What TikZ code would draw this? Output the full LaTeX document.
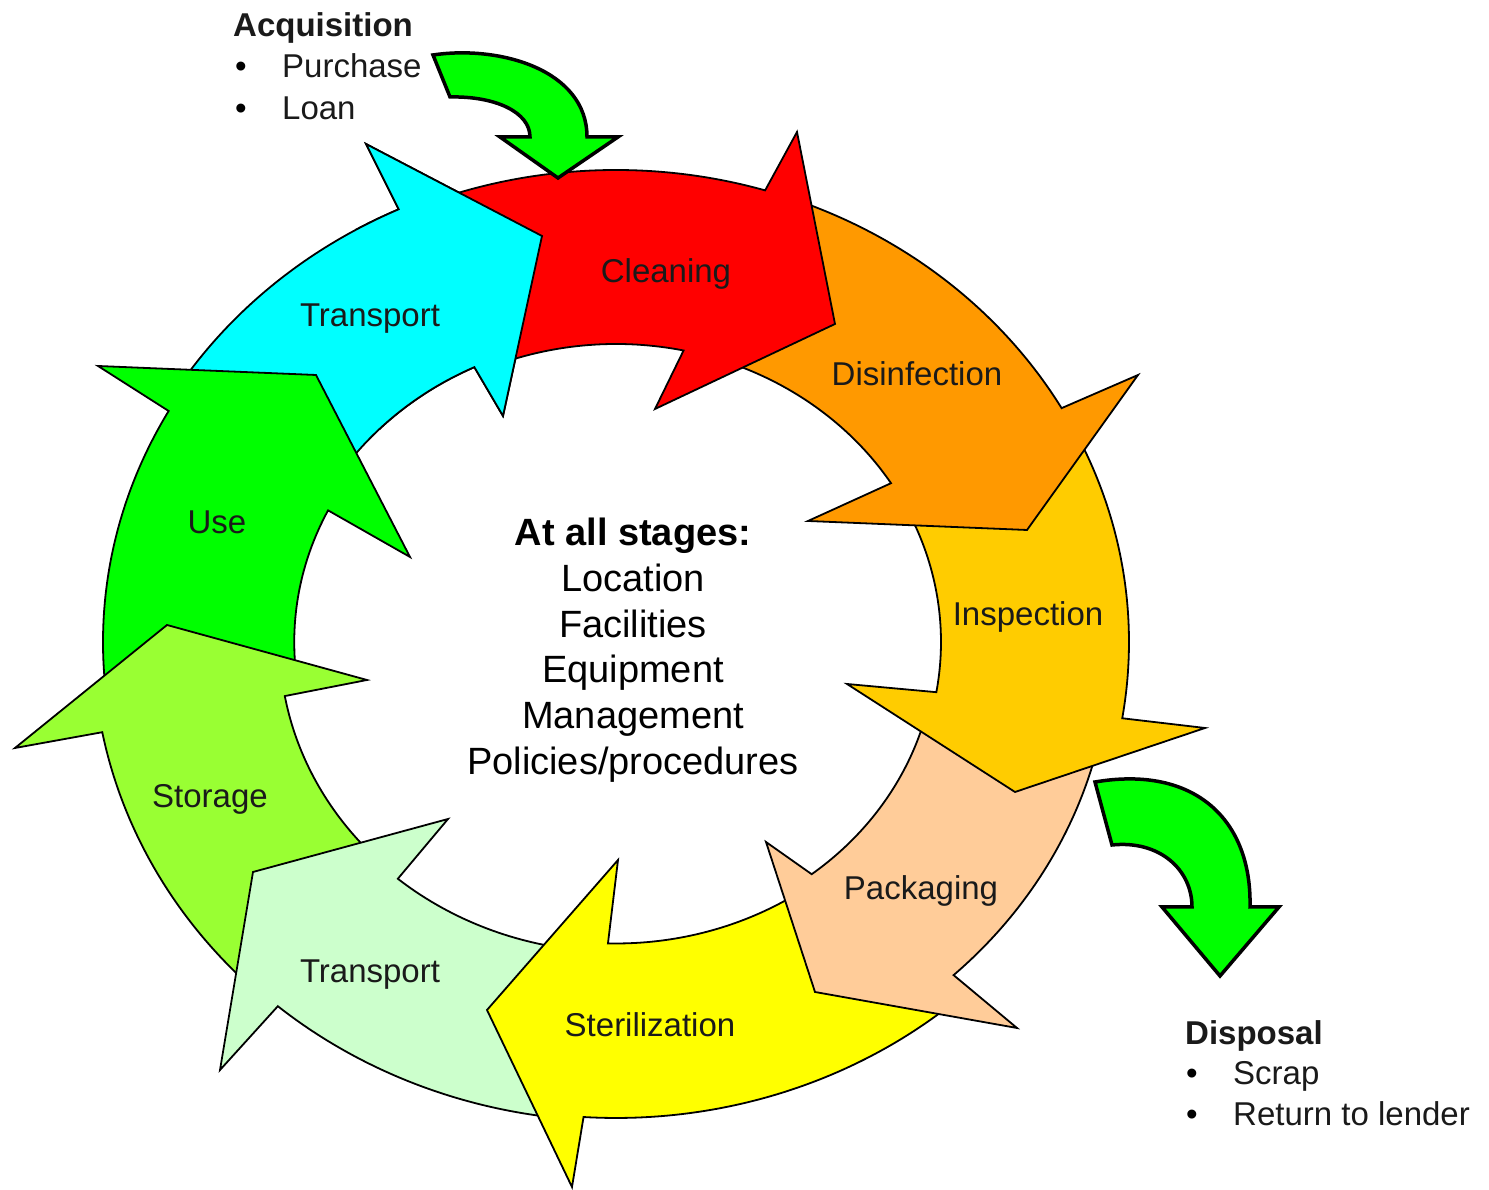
\documentclass[tikz,border=0pt]{standalone}
\usepackage{fontspec}
\setmainfont{Liberation Sans}
\usetikzlibrary{calc}
\definecolor{cRed}{HTML}{FF0000}
\definecolor{cOrange}{HTML}{FF9900}
\definecolor{cGold}{HTML}{FFCC00}
\definecolor{cPeach}{HTML}{FFCC99}
\definecolor{cYellow}{HTML}{FFFF00}
\definecolor{cMint}{HTML}{CCFFCC}
\definecolor{cLime}{HTML}{99FF33}
\definecolor{cGreen}{HTML}{00FF00}
\definecolor{cCyan}{HTML}{00FFFF}
\definecolor{cText}{HTML}{1A1A1A}
% #1 fill, #2 outer radii, #3 inner radii, #4 tail angle (outer), #5 head base angle (outer),
% #6 head points, #7 head base angle (inner), #8 tail angle (inner)
\newcommand{\ringarrow}[8]{%
  \filldraw[ringarr, fill=#1] ($(C)+(#4:#2)$) arc (#4:#5:#2) -- #6 --
    ($(C)+(#7:#3)$) arc (#7:#8:#3) -- cycle;}
\begin{document}
\begin{tikzpicture}[x=1pt, y=1pt,
  ringarr/.style={draw=black, line width=1.8pt, line join=miter},
  garr/.style={fill=cGreen, draw=black, line width=3.5pt, line join=miter},
  lbl/.style={font=\fontsize{33}{40}\selectfont, text=cText, inner sep=0pt, anchor=base},
  ctr/.style={font=\fontsize{38}{46}\selectfont, text=black, inner sep=0pt, anchor=base},
  lst/.style={font=\fontsize{33}{40}\selectfont, text=cText, inner sep=0pt, anchor=base west},
  bul/.style={font=\fontsize{33}{40}\selectfont, text=black, inner sep=0pt, anchor=base}]
\useasboundingbox (0,0) rectangle (1489,1190);
\fill[white] (0,0) rectangle (1489,1190);
\coordinate (C) at (616,548);
% Transport (top)
\ringarrow{cCyan}{518pt and 476.7pt}{331.5pt and 304pt}{147.5}{114.8}{(366,1046) -- (542,954) -- (503,774)}{115.3}{147.5}
% Use
\ringarrow{cGreen}{513pt and 472pt}{321.75pt and 295pt}{187}{150.7}{(98,824) -- (316,815) -- (410,633)}{153.5}{187}
% Storage
\ringarrow{cLime}{523pt and 481.5pt}{336.4pt and 308.4pt}{-134}{-169.2}{(15,442) -- (167,565) -- (367,510)}{-169.9}{-134.5}
% Transport (bottom)
\ringarrow{cMint}{520.7pt and 479pt}{338pt and 310pt}{-96.5}{-130.5}{(220,120) -- (253,318) -- (448,371)}{-130.2}{-97}
% Sterilization
\ringarrow{cYellow}{517pt and 476pt}{329pt and 301.5pt}{-49.5}{-93.6}{(572,3) -- (487,180) -- (618,330)}{-91.4}{-56}
% Packaging
\ringarrow{cPeach}{495pt and 455.5pt}{320pt and 293.5pt}{-13}{-47}{(1017,162) -- (815,198) -- (766,348)}{-52.3}{-13.5}
% Inspection
\ringarrow{cGold}{513pt and 472pt}{325pt and 298pt}{26.5}{-9.3}{(1205,462) -- (1015,398) -- (847,506)}{-9.7}{27.5}
% Disinfection
\ringarrow{cOrange}{513pt and 472pt}{325pt and 298pt}{70.5}{29.7}{(1138,815) -- (1027,660) -- (808,669)}{32.2}{71}
% Cleaning
\ringarrow{cRed}{513pt and 472pt}{325pt and 298pt}{111}{73.1}{(797,1058) -- (835,866) -- (655,781)}{78}{111.5}
% head of Transport (top) over the tail of Cleaning
\begin{scope}
  \clip (355,760) rectangle (600,1090);
  \ringarrow{cCyan}{518pt and 476.7pt}{331.5pt and 304pt}{147.5}{114.8}{(366,1046) -- (542,954) -- (503,774)}{115.3}{147.5}
\end{scope}
% acquisition and disposal arrows
\filldraw[garr] (433,1135) .. controls (500,1145) and (587,1120) .. (587,1053) -- (618,1053) -- (558,1012)
  -- (500,1053) -- (530,1053) .. controls (530,1078) and (495,1094) .. (450,1093) -- cycle;
\filldraw[garr] (1095,408) .. controls (1195,425) and (1252,370) .. (1250,283) -- (1279,283) -- (1220,214)
  -- (1162,283) -- (1192,283) .. controls (1192,320) and (1160,350) .. (1112,345) -- cycle;
% stage labels
\node[lbl] (lcl) at (666,907) {Cleaning};
\node[lbl] (ltt) at (370,863) {Transport};
\node[lbl] (lus) at (217,656) {Use};
\node[lbl] (ldi) at (917,804) {Disinfection};
\node[lbl] (lin) at (1028,564) {Inspection};
\node[lbl] (lpa) at (921,290) {Packaging};
\node[lbl] (lst) at (650,153) {Sterilization};
\node[lbl] (ltb) at (370,207) {Transport};
\node[lbl] (lso) at (210,382) {Storage};
% centre text
\node[ctr, font=\bfseries\fontsize{38}{46}\selectfont] (c0) at (633,644) {At all stages:};
\node[ctr] (c1) at (633,598) {Location};
\node[ctr] (c2) at (633,552) {Facilities};
\node[ctr] (c3) at (633,507) {Equipment};
\node[ctr] (c4) at (633,461) {Management};
\node[ctr] (c5) at (633,415) {Policies/procedures};
% acquisition list
\node[lst, font=\bfseries\fontsize{33}{40}\selectfont] (acq) at (233,1153) {Acquisition};
\node[bul] (ab1) at (241,1112) {•};
\node[lst] (a1) at (282,1112) {Purchase};
\node[bul] (ab2) at (241,1070) {•};
\node[lst] (a2) at (282,1070) {Loan};
% disposal list
\node[lst, font=\bfseries\fontsize{33}{40}\selectfont] (dis) at (1185,145) {Disposal};
\node[bul] (db1) at (1192,105) {•};
\node[lst] (d1) at (1233,105) {Scrap};
\node[bul] (db2) at (1192,64) {•};
\node[lst] (d2) at (1233,64) {Return to lender};
\end{tikzpicture}
\end{document}
